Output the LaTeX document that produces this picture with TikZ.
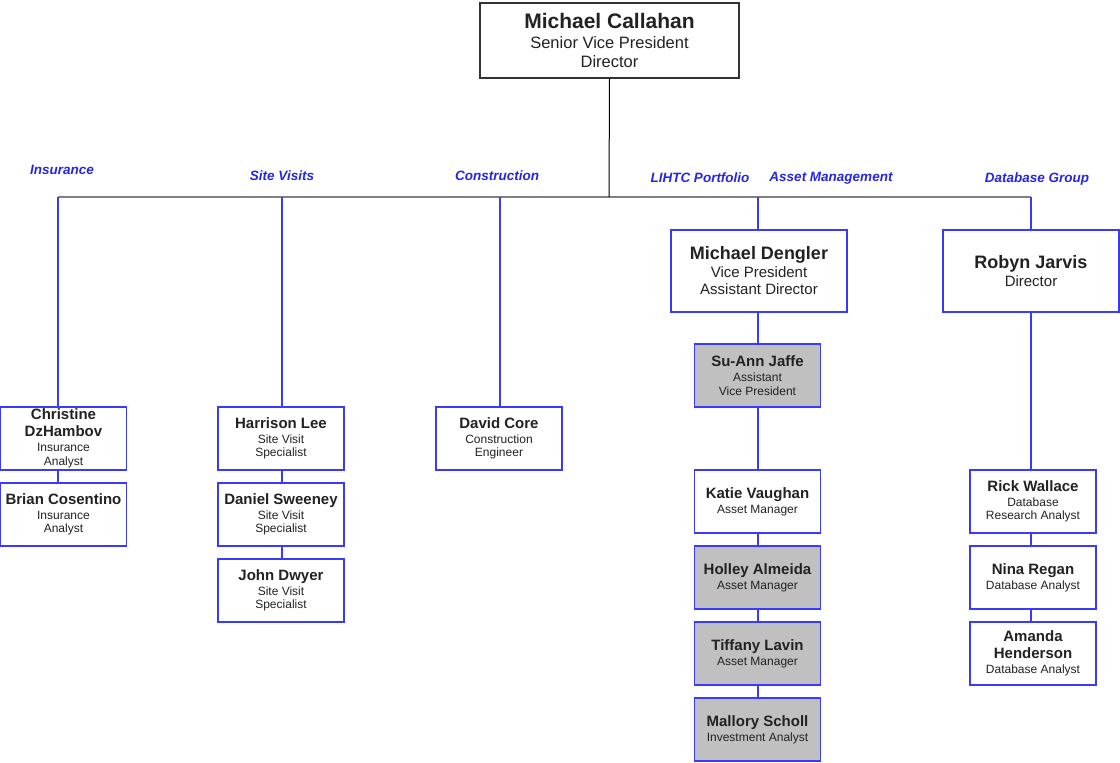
\documentclass[tikz,border=0pt]{standalone}
\usepackage{fontspec}
\setmainfont{Liberation Sans}
\definecolor{boxblue}{HTML}{3A3AFF}
\definecolor{lblblue}{HTML}{2525E8}
\definecolor{boxgray}{HTML}{C0C0C0}
\definecolor{txt}{HTML}{222222}
\definecolor{bus}{HTML}{808080}
\newcommand{\nmS}[1]{{\fontsize{15}{17}\selectfont\bfseries #1}}
\newcommand{\nmM}[1]{{\fontsize{18}{20}\selectfont\bfseries #1}}
\newcommand{\nmL}[1]{{\fontsize{21}{23}\selectfont\bfseries #1}}
\tikzset{
  sbox/.style={draw=boxblue, line width=1.1pt, fill=white, align=center, inner sep=0pt,
    minimum width=126pt, minimum height=63pt, text=txt, font=\fontsize{12}{13.5}\selectfont},
  gbox/.style={sbox, fill=boxgray},
  mbox/.style={draw=boxblue, line width=1.1pt, fill=white, align=center, inner sep=0pt,
    minimum width=176pt, minimum height=82pt, text=txt, font=\fontsize{15}{17}\selectfont},
  tbox/.style={draw=black!80, line width=1.1pt, fill=white, align=center, inner sep=0pt,
    minimum width=259pt, minimum height=75pt, text=txt, font=\fontsize{16.5}{19}\selectfont},
  lbl/.style={text=lblblue, font=\fontsize{13.5}{15}\selectfont\bfseries\itshape, inner sep=0pt},
  bl/.style={draw=boxblue, line width=1.1pt},
}
\begin{document}
\begin{tikzpicture}[x=1pt,y=-1pt]
\useasboundingbox (0,0) rectangle (1120,763);
% top
\node[tbox] (mc) at (609.5,40.5) {\nmL{Michael Callahan}\\[1pt] Senior Vice President\\ Director};
% bus coordinates
\coordinate (busC) at (609,197);
\coordinate (bIns) at (58,197);
\coordinate (bSite) at (282,197);
\coordinate (bCon) at (500,197);
\coordinate (bAM) at (758,197);
\coordinate (bDB) at (1031,197);
\draw[bus, line width=2.2pt] (bIns) -- (bDB);
\draw[black, line width=1pt] (mc.south) -- (busC);
% labels
\node[lbl] (lIns) at (62,170) {Insurance};
\node[lbl] (lSite) at (282,176) {Site Visits};
\node[lbl] (lCon) at (497,176) {Construction};
\node[lbl] (lLIHTC) at (700,178) {LIHTC Portfolio};
\node[lbl] (lAM) at (831,178) {Asset Management};
\node[lbl] (lDB) at (1037,179) {Database Group};
% insurance
\node[sbox] (cd) at (63.5,438.5) {\nmS{Christine}\\[3.5pt] \nmS{DzHambov}\\[1.5pt] Insurance\\ Analyst};
\node[sbox] (bc) at (63.5,514.5) {\nmS{Brian Cosentino}\\[1.5pt] Insurance\\ Analyst};
% site visits
\node[sbox] (hl) at (281,438.5) {\nmS{Harrison Lee}\\[1.5pt] Site Visit\\ Specialist};
\node[sbox] (ds) at (281,514.5) {\nmS{Daniel Sweeney}\\[1.5pt] Site Visit\\ Specialist};
\node[sbox] (jd) at (281,590.5) {\nmS{John Dwyer}\\[1.5pt] Site Visit\\ Specialist};
% construction
\node[sbox] (dc) at (499,438.5) {\nmS{David Core}\\[1.5pt] Construction\\ Engineer};
% asset management
\node[mbox] (md) at (759,271) {\nmM{Michael Dengler}\\[1pt] Vice President\\ Assistant Director};
\node[gbox] (sj) at (757.5,375.5) {\nmS{Su-Ann Jaffe}\\[1.5pt] Assistant\\ Vice President};
\node[sbox] (kv) at (757.5,501.5) {\nmS{Katie Vaughan}\\[1.5pt] Asset Manager};
\node[gbox] (ha) at (757.5,577.5) {\nmS{Holley Almeida}\\[1.5pt] Asset Manager};
\node[gbox] (tl) at (757.5,653.5) {\nmS{Tiffany Lavin}\\[1.5pt] Asset Manager};
\node[gbox] (ms) at (757.5,729.5) {\nmS{Mallory Scholl}\\[1.5pt] Investment Analyst};
% database
\node[mbox] (rj) at (1031,271) {\nmM{Robyn Jarvis}\\[1pt] Director};
\node[sbox] (rw) at (1033,501.5) {\nmS{Rick Wallace}\\[1.5pt] Database\\ Research Analyst};
\node[sbox] (nr) at (1033,577.5) {\nmS{Nina Regan}\\[1.5pt] Database Analyst};
\node[sbox] (ah) at (1033,653.5) {\nmS{Amanda}\\[3.5pt] \nmS{Henderson}\\[1.5pt] Database Analyst};
% connectors
\draw[bl] (bIns) -- (cd.north -| bIns);
\draw[bl] (cd.south -| bIns) -- (bc.north -| bIns);
\draw[bl] (bSite) -- (hl.north -| bSite);
\draw[bl] (hl.south -| bSite) -- (ds.north -| bSite);
\draw[bl] (ds.south -| bSite) -- (jd.north -| bSite);
\draw[bl] (bCon) -- (dc.north -| bCon);
\draw[bl] (bAM) -- (md.north -| bAM);
\draw[bl] (md.south -| bAM) -- (sj.north -| bAM);
\draw[bl] (sj.south -| bAM) -- (kv.north -| bAM);
\draw[bl] (kv.south -| bAM) -- (ha.north -| bAM);
\draw[bl] (ha.south -| bAM) -- (tl.north -| bAM);
\draw[bl] (tl.south -| bAM) -- (ms.north -| bAM);
\draw[bl] (bDB) -- (rj.north -| bDB);
\draw[bl] (rj.south -| bDB) -- (rw.north -| bDB);
\draw[bl] (rw.south -| bDB) -- (nr.north -| bDB);
\draw[bl] (nr.south -| bDB) -- (ah.north -| bDB);
\end{tikzpicture}
\end{document}
